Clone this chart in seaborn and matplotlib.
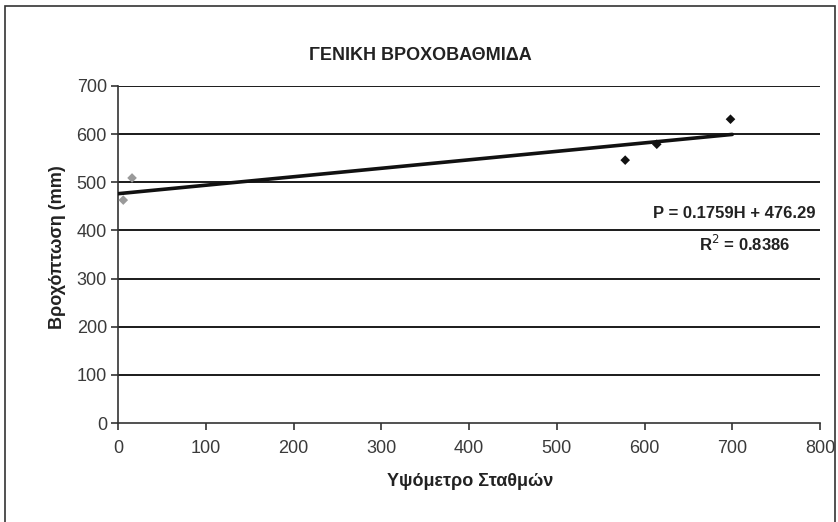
import matplotlib
matplotlib.use("Agg")
import matplotlib.pyplot as plt
import seaborn as sns
import numpy as np
import pandas as pd
from matplotlib.patches import Rectangle

# Data
elevation = [6, 16, 578, 614, 698]
rainfall = [463, 509, 546, 579, 631]
slope = 0.1759
intercept = 476.29
trend_x = [0, 700]
y_ticks = [0, 100, 200, 300, 400, 500, 600, 700]
x_ticks = [0, 100, 200, 300, 400, 500, 600, 700, 800]
title = "ΓΕΝΙΚΗ ΒΡΟΧΟΒΑΘΜΙΔΑ"
xlabel = "Υψόμετρο Σταθμών"
ylabel = "Βροχόπτωση (mm)"
eq_text = "P = 0.1759H + 476.29"
r2_text = "R$^{2}$ = 0.8386"

sns.set_theme(style="white")
plt.rcParams['font.family'] = ['Liberation Sans', 'DejaVu Sans']

fig = plt.figure(figsize=(8.38, 5.22), dpi=100)
ax = fig.add_axes([118/838, 1-423/522, (820-118)/838, (423-86)/522])

df = pd.DataFrame({"H": elevation, "P": rainfall})
trend = pd.DataFrame({"H": trend_x, "P": [slope*x + intercept for x in trend_x]})

for y in y_ticks[1:]:
    ax.axhline(y, color="#1a1a1a", lw=1.4, zorder=1)

sns.lineplot(data=trend, x="H", y="P", ax=ax, color="#111111", lw=2.6, zorder=3)
colors = ["#9a9a9a", "#9a9a9a", "#111111", "#111111", "#111111"]
ax.scatter(df["H"], df["P"], marker="D", s=24, c=colors, zorder=4, linewidths=0)

ax.set_xlim(0, 800)
ax.set_ylim(0, 700)
ax.set_xticks(x_ticks)
ax.set_yticks(y_ticks)
ax.tick_params(axis="both", labelsize=13, colors="#333333", length=5, width=1.2,
               direction="out", bottom=True, left=True, pad=3)
ax.tick_params(axis="x", pad=7)
for t in ax.get_xticklabels() + ax.get_yticklabels():
    t.set_color("#3a3a3a")
for s in ["top", "right"]:
    ax.spines[s].set_visible(False)
for s in ["left", "bottom"]:
    ax.spines[s].set_color("#333333")
    ax.spines[s].set_linewidth(1.2)
ax.set_xlabel("")
ax.set_ylabel("")

fig.text(420/838, 1-55/522, title, ha="center", va="center", fontsize=13,
         fontweight="bold", color="#222222")
fig.text(470/838, 1-481/522, xlabel, ha="center", va="center", fontsize=13,
         fontweight="bold", color="#222222")
fig.text(57/838, 1-247/522, ylabel, ha="center", va="center", rotation=90,
         fontsize=13, fontweight="bold", color="#222222")
fig.text(815/838, 1-214/522, eq_text, ha="right", va="center", fontsize=12,
         fontweight="bold", color="#222222")
fig.text(790/838, 1-244/522, r2_text, ha="right", va="center", fontsize=12,
         fontweight="bold", color="#222222")

fig.patches.append(Rectangle((5/838, -0.05), (835-5)/838, 1.05-6/522, transform=fig.transFigure,
                             fill=False, edgecolor="#333333", lw=1.2))

fig.savefig("out.png", dpi=100)
